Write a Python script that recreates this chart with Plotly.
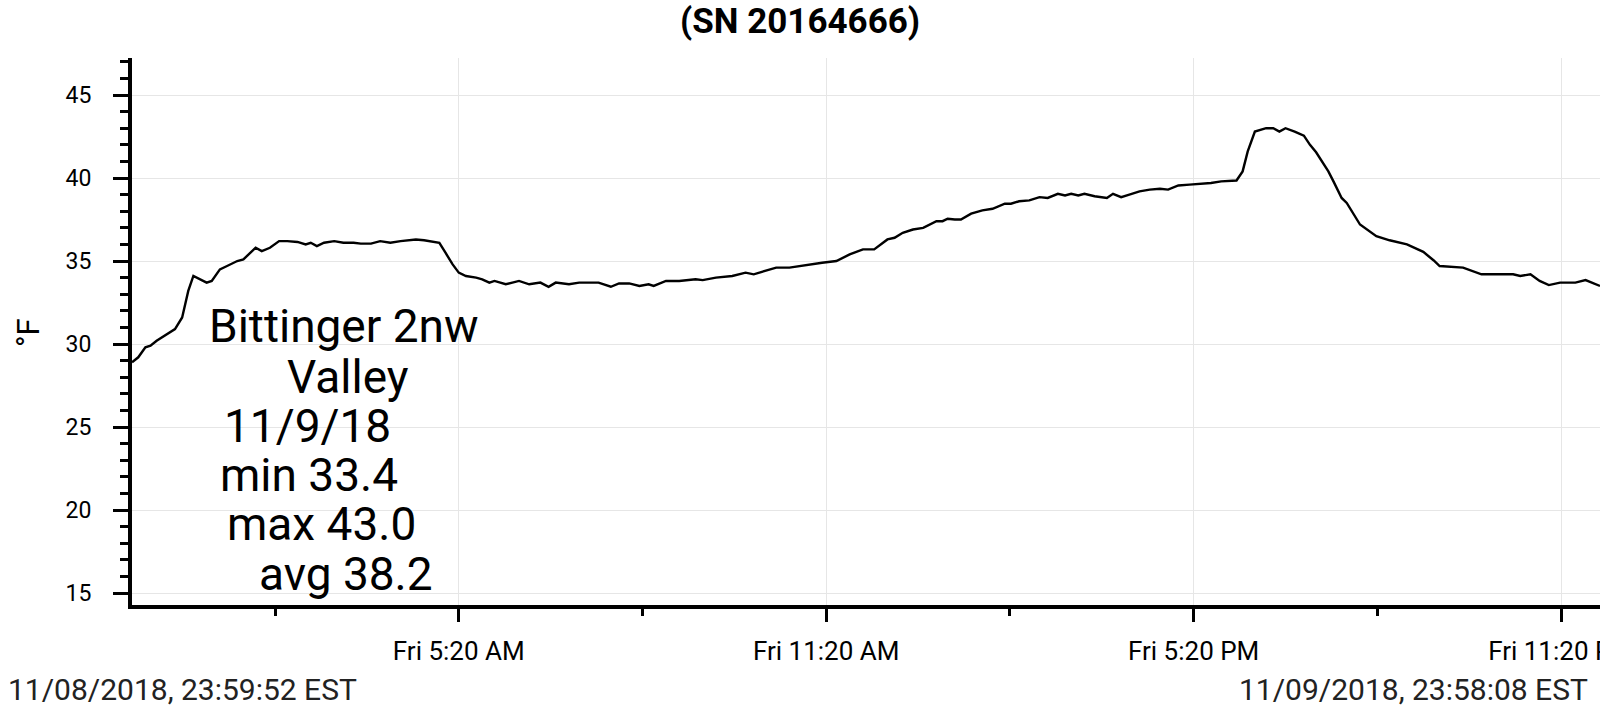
import plotly.graph_objects as go

# ---- data ----
times = [
    "2018-11-08 23:59:52", "2018-11-09 00:06", "2018-11-09 00:13", "2018-11-09 00:18", "2018-11-09 00:24",
    "2018-11-09 00:34", "2018-11-09 00:42", "2018-11-09 00:49", "2018-11-09 00:55", "2018-11-09 01:00",
    "2018-11-09 01:07", "2018-11-09 01:13", "2018-11-09 01:18", "2018-11-09 01:26", "2018-11-09 01:33",
    "2018-11-09 01:43", "2018-11-09 01:49", "2018-11-09 02:01", "2018-11-09 02:07", "2018-11-09 02:15",
    "2018-11-09 02:24", "2018-11-09 02:32", "2018-11-09 02:42", "2018-11-09 02:50", "2018-11-09 02:55",
    "2018-11-09 03:01", "2018-11-09 03:08", "2018-11-09 03:18", "2018-11-09 03:27", "2018-11-09 03:37",
    "2018-11-09 03:44", "2018-11-09 03:54", "2018-11-09 04:03", "2018-11-09 04:13", "2018-11-09 04:23",
    "2018-11-09 04:29", "2018-11-09 04:38", "2018-11-09 04:46", "2018-11-09 04:52", "2018-11-09 05:01",
    "2018-11-09 05:07", "2018-11-09 05:14", "2018-11-09 05:20", "2018-11-09 05:27", "2018-11-09 05:37",
    "2018-11-09 05:43", "2018-11-09 05:50", "2018-11-09 05:55", "2018-11-09 06:06", "2018-11-09 06:19",
    "2018-11-09 06:29", "2018-11-09 06:40", "2018-11-09 06:48", "2018-11-09 06:55", "2018-11-09 07:08",
    "2018-11-09 07:18", "2018-11-09 07:37", "2018-11-09 07:49", "2018-11-09 07:57", "2018-11-09 08:07",
    "2018-11-09 08:17", "2018-11-09 08:26", "2018-11-09 08:31", "2018-11-09 08:43", "2018-11-09 08:56",
    "2018-11-09 09:06", "2018-11-09 09:12", "2018-11-09 09:19", "2018-11-09 09:32", "2018-11-09 09:48",
    "2018-11-09 10:01", "2018-11-09 10:09", "2018-11-09 10:21", "2018-11-09 10:31", "2018-11-09 10:44",
    "2018-11-09 10:54", "2018-11-09 11:07", "2018-11-09 11:16", "2018-11-09 11:30", "2018-11-09 11:43",
    "2018-11-09 11:56", "2018-11-09 12:07", "2018-11-09 12:20", "2018-11-09 12:27", "2018-11-09 12:35",
    "2018-11-09 12:45", "2018-11-09 12:55", "2018-11-09 13:08", "2018-11-09 13:14", "2018-11-09 13:19",
    "2018-11-09 13:26", "2018-11-09 13:32", "2018-11-09 13:42", "2018-11-09 13:53", "2018-11-09 14:03",
    "2018-11-09 14:15", "2018-11-09 14:21", "2018-11-09 14:29", "2018-11-09 14:39", "2018-11-09 14:49",
    "2018-11-09 14:57", "2018-11-09 15:07", "2018-11-09 15:14", "2018-11-09 15:20", "2018-11-09 15:27",
    "2018-11-09 15:33", "2018-11-09 15:43", "2018-11-09 15:55", "2018-11-09 16:01", "2018-11-09 16:09",
    "2018-11-09 16:17", "2018-11-09 16:27", "2018-11-09 16:37", "2018-11-09 16:47", "2018-11-09 16:55",
    "2018-11-09 17:05", "2018-11-09 17:16", "2018-11-09 17:29", "2018-11-09 17:37", "2018-11-09 17:47",
    "2018-11-09 18:02", "2018-11-09 18:08", "2018-11-09 18:13", "2018-11-09 18:20", "2018-11-09 18:31",
    "2018-11-09 18:38", "2018-11-09 18:44", "2018-11-09 18:50", "2018-11-09 18:59", "2018-11-09 19:08",
    "2018-11-09 19:14", "2018-11-09 19:20", "2018-11-09 19:32", "2018-11-09 19:37", "2018-11-09 19:45",
    "2018-11-09 19:50", "2018-11-09 20:03", "2018-11-09 20:19", "2018-11-09 20:32", "2018-11-09 20:49",
    "2018-11-09 21:05", "2018-11-09 21:15", "2018-11-09 21:21", "2018-11-09 21:44", "2018-11-09 22:02",
    "2018-11-09 22:33", "2018-11-09 22:40", "2018-11-09 22:50", "2018-11-09 22:59", "2018-11-09 23:08",
    "2018-11-09 23:19", "2018-11-09 23:34", "2018-11-09 23:44", "2018-11-09 23:58:08",
]
temps_f = [
    28.9, 29.2, 29.8, 29.9, 30.2,
    30.6, 30.9, 31.6, 33.2, 34.1,
    33.9, 33.7, 33.8, 34.5, 34.7,
    35.0, 35.1, 35.8, 35.6, 35.8,
    36.2, 36.2, 36.15, 36.0, 36.1,
    35.9, 36.1, 36.2, 36.1, 36.1,
    36.05, 36.05, 36.2, 36.1, 36.2,
    36.25, 36.3, 36.25, 36.2, 36.1,
    35.5, 34.8, 34.3, 34.1, 34.0,
    33.9, 33.7, 33.8, 33.6, 33.8,
    33.6, 33.7, 33.45, 33.7, 33.6,
    33.7, 33.7, 33.45, 33.65, 33.65,
    33.5, 33.6, 33.5, 33.8, 33.8,
    33.85, 33.9, 33.85, 34.0, 34.1,
    34.3, 34.2, 34.4, 34.6, 34.6,
    34.7, 34.8, 34.9, 35.0, 35.4,
    35.7, 35.7, 36.3, 36.4, 36.7,
    36.9, 37.0, 37.4, 37.4, 37.55,
    37.5, 37.5, 37.85, 38.05, 38.15,
    38.45, 38.45, 38.6, 38.65, 38.85,
    38.8, 39.05, 38.95, 39.05, 38.95,
    39.05, 38.9, 38.8, 39.05, 38.85,
    39.0, 39.2, 39.3, 39.35, 39.3,
    39.55, 39.6, 39.65, 39.7, 39.8,
    39.85, 40.4, 41.6, 42.8, 43.0,
    43.0, 42.8, 43.0, 42.8, 42.55,
    42.0, 41.55, 40.4, 39.8, 38.8,
    38.5, 37.2, 36.5, 36.25, 36.0,
    35.55, 35.05, 34.7, 34.6, 34.2,
    34.2, 34.1, 34.2, 33.8, 33.55,
    33.7, 33.7, 33.85, 33.5,
]

x_tick_vals = ["2018-11-09 05:20", "2018-11-09 11:20", "2018-11-09 17:20", "2018-11-09 23:20"]
x_tick_text = ["Fri 5:20 AM", "Fri 11:20 AM", "Fri 5:20 PM", "Fri 11:20 PM"]
x_minor_vals = ["2018-11-09 02:20", "2018-11-09 08:20", "2018-11-09 14:20", "2018-11-09 20:20"]
y_tick_vals = [15, 20, 25, 30, 35, 40, 45]

title_text = "(SN 20164666)"
y_title = "°F"
start_label = "11/08/2018, 23:59:52 EST"
end_label = "11/09/2018, 23:58:08 EST"
note_lines = ["Bittinger 2nw", "Valley", "11/9/18", "min 33.4", "max 43.0", "avg 38.2"]

# ---- layout geometry (pixels) ----
W, H = 1600, 720
L, R, T, B = 132, 0, 58, 115
PW, PH = W - L - R, H - T - B

def px_x(x):
    return (x - L) / PW

def px_y(y):
    return (H - B - y) / PH

FONT = "Roboto, Arial, sans-serif"

fig = go.Figure()
fig.add_trace(go.Scatter(
    x=times, y=temps_f, mode="lines",
    line=dict(color="black", width=2.4),
    showlegend=False, hoverinfo="skip",
))

fig.update_layout(
    width=W, height=H,
    margin=dict(l=L, r=R, t=T, b=B, pad=0, autoexpand=False),
    paper_bgcolor="white", plot_bgcolor="white",
    font=dict(family=FONT, color="black"),
    showlegend=False,
)

fig.update_xaxes(
    type="date",
    automargin=False,
    range=[times[0], times[-1]],
    tickmode="array", tickvals=x_tick_vals, ticktext=x_tick_text,
    ticks="outside", ticklen=13, tickwidth=3, tickcolor="black",
    showline=True, linecolor="black", linewidth=4,
    showgrid=True, gridcolor="#e6e6e6", gridwidth=1,
    zeroline=False,
    tickfont=dict(family=FONT, size=26, color="black"),
    ticklabelstandoff=7,
    ticklabeloverflow="allow",
    minor=dict(tickmode="array", tickvals=x_minor_vals, ticks="outside",
               ticklen=7, tickwidth=3, tickcolor="black", showgrid=False),
)
fig.update_yaxes(
    automargin=False,
    range=[14.28, 47.23],
    tickmode="array", tickvals=y_tick_vals,
    ticks="outside", ticklen=15, tickwidth=3, tickcolor="black",
    showline=True, linecolor="black", linewidth=4,
    showgrid=True, gridcolor="#e6e6e6", gridwidth=1,
    zeroline=False,
    tickfont=dict(family=FONT, size=23, color="black"),
    ticklabelstandoff=17,
    minor=dict(dtick=1, tick0=0, ticks="outside",
               ticklen=8, tickwidth=3, tickcolor="black", showgrid=False),
)

annotations = []
# title
annotations.append(dict(text="<b>" + title_text + "</b>", xref="paper", yref="paper",
                        x=px_x(800), y=px_y(22), xanchor="center", yanchor="middle",
                        showarrow=False, font=dict(family=FONT, size=35, color="black")))
# y-axis title
annotations.append(dict(text=y_title, xref="paper", yref="paper",
                        x=px_x(28), y=px_y(332), xanchor="center", yanchor="middle",
                        textangle=-90, showarrow=False,
                        font=dict(family=FONT, size=31, color="black")))
# bottom date labels
annotations.append(dict(text=start_label, xref="paper", yref="paper",
                        x=px_x(6), y=px_y(689), xanchor="left", yanchor="middle",
                        showarrow=False, font=dict(family=FONT, size=30, color="#222222")))
annotations.append(dict(text=end_label, xref="paper", yref="paper",
                        x=px_x(1590), y=px_y(689), xanchor="right", yanchor="middle",
                        showarrow=False, font=dict(family=FONT, size=30, color="#222222")))
# station note block
note_left = [207, 285, 222, 218, 225, 257]
note_mid = [326, 377, 426, 475, 524, 574]
for txt, xl, ym in zip(note_lines, note_left, note_mid):
    annotations.append(dict(text=txt, xref="paper", yref="paper",
                            x=px_x(xl), y=px_y(ym), xanchor="left", yanchor="middle",
                            showarrow=False, font=dict(family=FONT, size=46, color="black")))

fig.update_layout(annotations=annotations)

fig.write_html(
    "out.html",
    config={"displayModeBar": False},
    post_script="document.body.style.margin='0';document.body.style.overflow='hidden';",
)
